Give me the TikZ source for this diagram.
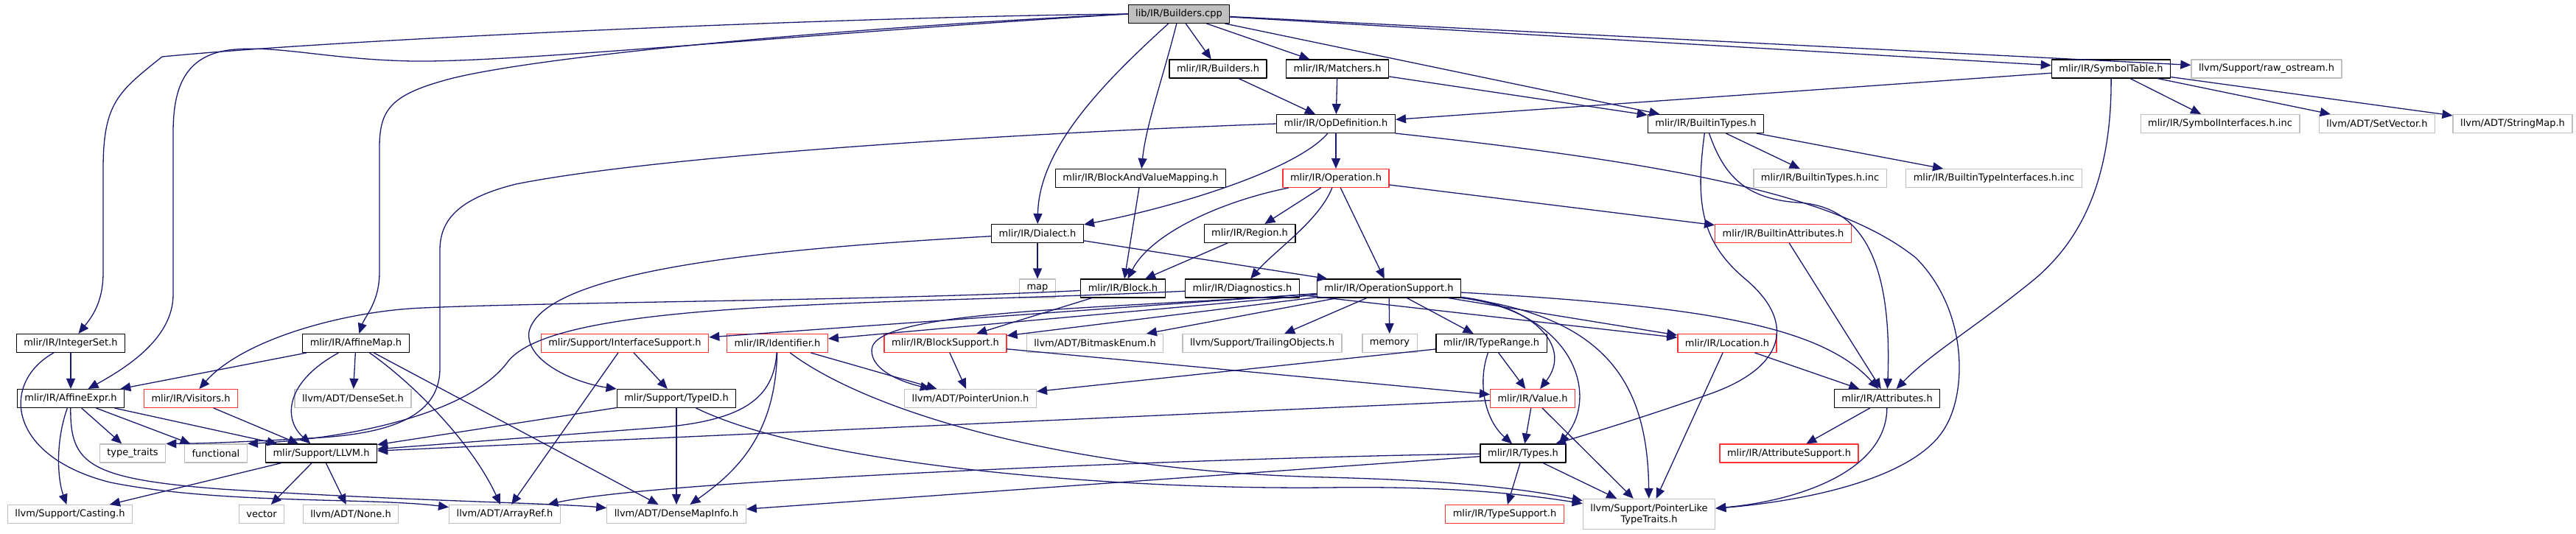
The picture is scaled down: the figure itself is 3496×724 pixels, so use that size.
\documentclass[tikz,border=0pt]{standalone}
\usepackage{fontspec}
\setmainfont{DejaVu Sans}
\usetikzlibrary{arrows.meta}

\definecolor{edgeblue}{RGB}{25,25,112}
\definecolor{extgray}{RGB}{191,191,191}
\definecolor{truncred}{RGB}{255,51,51}
\definecolor{rootfill}{RGB}{191,191,191}

\begin{document}
\begin{tikzpicture}[x=0.5pt, y=-0.5pt, line join=round, line cap=round]
   % Styles
   \tikzset{
    hdr/.style={rectangle, draw=black, fill=white, line width=0.65pt,
      inner xsep=5pt, inner ysep=2pt, minimum height=12.4pt,
      font=\fontsize{6.5pt}{7.5pt}\selectfont},
    sys/.style={hdr, draw=extgray},
    cut/.style={hdr, draw=truncred},
    src/.style={hdr, fill=rootfill},
    inc/.style={draw=edgeblue, line width=0.65pt, -{Triangle[length=7pt, width=6pt]}}
   }
  \useasboundingbox (0,0) rectangle (3496,724);
  % Nodes
  \node[src] (buildersCpp) at (1600,19) {lib/IR/Builders.cpp};
  \node[hdr] (buildersH) at (1653,93.5) {mlir/IR/Builders.h};
  \node[hdr] (matchers) at (1815,93.5) {mlir/IR/Matchers.h};
  \node[hdr] (symbolTable) at (2865,93.5) {mlir/IR/SymbolTable.h};
  \node[sys] (rawOstream) at (3076,93.5) {llvm/Support/raw\_ostream.h};
  \node[hdr] (opDefinition) at (1813,168) {mlir/IR/OpDefinition.h};
  \node[hdr] (builtinTypes) at (2315,168) {mlir/IR/BuiltinTypes.h};
  \node[sys] (symbolIfaceInc) at (3013,168) {mlir/IR/SymbolInterfaces.h.inc};
  \node[sys] (setVector) at (3226,168) {llvm/ADT/SetVector.h};
  \node[sys] (stringMap) at (3410,168) {llvm/ADT/StringMap.h};
  \node[hdr] (blockValueMap) at (1548,242) {mlir/IR/BlockAndValueMapping.h};
  \node[cut] (operation) at (1813,242) {mlir/IR/Operation.h};
  \node[sys] (builtinTypesInc) at (2470,242) {mlir/IR/BuiltinTypes.h.inc};
  \node[sys] (builtinTypeIfaceInc) at (2706,242) {mlir/IR/BuiltinTypeInterfaces.h.inc};
  \node[hdr] (dialect) at (1408,317) {mlir/IR/Dialect.h};
  \node[hdr] (region) at (1696,317) {mlir/IR/Region.h};
  \node[cut] (builtinAttrs) at (2420,317) {mlir/IR/BuiltinAttributes.h};
  \node[sys] (mapH) at (1408,391.5) {map};
  \node[hdr] (block) at (1524,391.5) {mlir/IR/Block.h};
  \node[hdr] (diagnostics) at (1686,391.5) {mlir/IR/Diagnostics.h};
  \node[hdr] (opSupport) at (1885,391.5) {mlir/IR/OperationSupport.h};
  \node[hdr] (integerSet) at (96,466) {mlir/IR/IntegerSet.h};
  \node[hdr] (affineMap) at (483,466) {mlir/IR/AffineMap.h};
  \node[cut] (ifaceSupport) at (848,466) {mlir/Support/InterfaceSupport.h};
  \node[cut] (identifier) at (1055,466) {mlir/IR/Identifier.h};
  \node[cut] (blockSupport) at (1283,466) {mlir/IR/BlockSupport.h};
  \node[sys] (bitmaskEnum) at (1486,466) {llvm/ADT/BitmaskEnum.h};
  \node[sys] (trailingObj) at (1713,466) {llvm/Support/TrailingObjects.h};
  \node[sys] (memoryH) at (1886,466) {memory};
  \node[hdr] (typeRange) at (2024,466) {mlir/IR/TypeRange.h};
  \node[cut] (location) at (2344,466) {mlir/IR/Location.h};
  \node[hdr] (affineExpr) at (96,541) {mlir/IR/AffineExpr.h};
  \node[cut] (visitors) at (259,541) {mlir/IR/Visitors.h};
  \node[sys] (denseSet) at (479,541) {llvm/ADT/DenseSet.h};
  \node[hdr] (typeId) at (918,541) {mlir/Support/TypeID.h};
  \node[sys] (pointerUnion) at (1317,541) {llvm/ADT/PointerUnion.h};
  \node[cut] (value) at (2080,541) {mlir/IR/Value.h};
  \node[hdr] (attributes) at (2561,541) {mlir/IR/Attributes.h};
  \node[sys] (typeTraits) at (180,615.5) {type\_traits};
  \node[sys] (functionalH) at (293,615.5) {functional};
  \node[hdr] (llvmH) at (436,615.5) {mlir/Support/LLVM.h};
  \node[hdr] (types) at (2067,615.5) {mlir/IR/Types.h};
  \node[cut] (attrSupport) at (2428,615.5) {mlir/IR/AttributeSupport.h};
  \node[sys] (casting) at (95,698) {llvm/Support/Casting.h};
  \node[sys] (vectorH) at (355,698) {vector};
  \node[sys] (noneH) at (476,698) {llvm/ADT/None.h};
  \node[sys] (arrayRef) at (685,698) {llvm/ADT/ArrayRef.h};
  \node[sys] (denseMapInfo) at (918,698) {llvm/ADT/DenseMapInfo.h};
  \node[cut] (typeSupport) at (2042,698) {mlir/IR/TypeSupport.h};
  \node[sys, align=center, minimum height=20.5pt] (ptrLike) at (2238,698) {llvm/Support/PointerLike\\TypeTraits.h};
  % Edges (from lib/IR/Builders.cpp)
  \draw[inc] (buildersCpp) -- (buildersH);
  \draw[inc] (buildersCpp) -- (matchers);
  \draw[inc] (buildersCpp) -- (builtinTypes);
  \draw[inc] (buildersCpp) -- (symbolTable);
  \draw[inc] (buildersCpp) -- (rawOstream);
  \draw[inc] (buildersCpp) .. controls (1580,100) and (1555,170) .. (blockValueMap);
  \draw[inc] (buildersCpp) .. controls (1500,110) and (1410,200) .. (dialect);
  \draw[inc] (buildersCpp.west) .. controls (1200,22) and (500,50) .. (220,77)
    .. controls (160,125) and (140,140) .. (140,230) -- (140,370)
    .. controls (140,410) and (125,430) .. (integerSet);
  \draw[inc] (buildersCpp.west) .. controls (1100,45) and (700,85) .. (560,83)
    .. controls (450,81) and (380,62) .. (320,67)
    .. controls (250,72) and (235,120) .. (235,180) -- (235,400)
    .. controls (235,460) and (170,500) .. (affineExpr);
  \draw[inc] (buildersCpp.west) .. controls (1100,40) and (700,80) .. (600,110)
    .. controls (530,130) and (515,150) .. (515,200) -- (515,370)
    .. controls (515,410) and (495,430) .. (affineMap);
  % Edges (upper headers)
  \draw[inc] (buildersH) -- (opDefinition);
  \draw[inc] (matchers) -- (opDefinition);
  \draw[inc] (matchers) -- (builtinTypes);
  \draw[inc] (symbolTable) -- (opDefinition);
  \draw[inc] (symbolTable) -- (symbolIfaceInc);
  \draw[inc] (symbolTable) -- (setVector);
  \draw[inc] (symbolTable) -- (stringMap);
  \draw[inc] (symbolTable) .. controls (2866,250) and (2820,330) .. (2760,380)
    .. controls (2680,445) and (2620,480) .. (attributes);
  \draw[inc] (builtinTypes) -- (builtinTypesInc);
  \draw[inc] (builtinTypes) -- (builtinTypeIfaceInc);
  \draw[inc] (builtinTypes) .. controls (2300,280) and (2310,330) .. (2370,380)
    .. controls (2440,440) and (2420,500) .. (2320,535)
    .. controls (2250,560) and (2170,585) .. (types);
  \draw[inc] (builtinTypes) .. controls (2340,240) and (2370,270) .. (2440,275)
    .. controls (2530,280) and (2568,360) .. (attributes);
  \draw[inc] (opDefinition) -- (operation);
  \draw[inc] (opDefinition) .. controls (1760,230) and (1600,280) .. (dialect);
  \draw[inc] (opDefinition.south east) .. controls (2300,225) and (2500,270) .. (2600,350)
    .. controls (2670,420) and (2670,530) .. (2640,580)
    .. controls (2600,650) and (2450,680) .. (ptrLike);
  \draw[inc] (opDefinition.west) .. controls (1400,180) and (900,210) .. (700,250)
    .. controls (620,270) and (597,300) .. (597,340) -- (597,500)
    .. controls (597,570) and (520,590) .. (420,595)
    .. controls (330,600) and (280,602) .. (typeTraits.north east);
  \draw[inc] (operation) -- (region);
  \draw[inc] (operation) -- (opSupport);
  \draw[inc] (operation) -- (builtinAttrs);
  \draw[inc] (operation) .. controls (1650,275) and (1560,320) .. (block);
  \draw[inc] (operation) .. controls (1790,300) and (1730,340) .. (diagnostics);
  \draw[inc] (region) -- (block);
  \draw[inc] (blockValueMap) -- (block);
  \draw[inc] (builtinAttrs) -- (attributes);
  \draw[inc] (dialect) -- (mapH);
  \draw[inc] (dialect) -- (opSupport);
  \draw[inc] (dialect) .. controls (1100,335) and (740,360) .. (718,450)
    .. controls (712,490) and (780,520) .. (typeId.north west);
  % Edges (middle headers)
  \draw[inc] (block) -- (blockSupport);
  \draw[inc] (block) .. controls (1200,408) and (750,410) .. (574,418)
    .. controls (470,422) and (330,460) .. (visitors);
  \draw[inc] (diagnostics) -- (location);
  \draw[inc] (diagnostics) .. controls (1200,415) and (760,405) .. (690,490)
    .. controls (640,560) and (480,595) .. (functionalH.north east);
  \draw[inc] (opSupport) -- (ifaceSupport);
  \draw[inc] (opSupport) -- (identifier);
  \draw[inc] (opSupport) -- (blockSupport);
  \draw[inc] (opSupport) -- (bitmaskEnum);
  \draw[inc] (opSupport) -- (trailingObj);
  \draw[inc] (opSupport) -- (memoryH);
  \draw[inc] (opSupport) -- (typeRange);
  \draw[inc] (opSupport) -- (location);
  \draw[inc] (opSupport) .. controls (1500,420) and (1185,420) .. (1183,475)
    .. controls (1182,505) and (1230,520) .. (pointerUnion);
  \draw[inc] (opSupport) .. controls (2080,415) and (2135,470) .. (value);
  \draw[inc] (opSupport) .. controls (2140,425) and (2170,540) .. (types.15);
  \draw[inc] (opSupport) .. controls (2180,430) and (2236,520) .. (ptrLike);
  \draw[inc] (opSupport) .. controls (2300,415) and (2470,440) .. (attributes);
  \draw[inc] (ifaceSupport) -- (typeId);
  \draw[inc] (ifaceSupport) -- (arrayRef);
  \draw[inc] (identifier) -- (pointerUnion);
  \draw[inc] (identifier) .. controls (1050,540) and (1010,570) .. (900,580) -- (llvmH);
  \draw[inc] (identifier) .. controls (1052,590) and (1000,640) .. (denseMapInfo);
  \draw[inc] (identifier) .. controls (1180,560) and (1450,640) .. (1800,648)
    .. controls (1950,652) and (2050,660) .. (ptrLike);
  \draw[inc] (blockSupport) -- (pointerUnion);
  \draw[inc] (blockSupport) -- (value);
  \draw[inc] (typeRange) -- (pointerUnion);
  \draw[inc] (typeRange) -- (value);
  \draw[inc] (typeRange) .. controls (2005,520) and (2015,570) .. (types);
  \draw[inc] (location) -- (attributes);
  \draw[inc] (location) -- (ptrLike);
  % Edges (lower headers)
  \draw[inc] (typeId) -- (llvmH);
  \draw[inc] (typeId) -- (denseMapInfo);
  \draw[inc] (typeId) .. controls (1100,630) and (1500,665) .. (1800,662)
    .. controls (1950,660) and (2050,668) .. (ptrLike);
  \draw[inc] (value) -- (types);
  \draw[inc] (value) -- (ptrLike);
  \draw[inc] (value) -- (llvmH);
  \draw[inc] (attributes) -- (attrSupport);
  \draw[inc] (attributes) .. controls (2560,640) and (2440,680) .. (ptrLike);
  \draw[inc] (types) -- (typeSupport);
  \draw[inc] (types) -- (ptrLike);
  \draw[inc] (types) -- (denseMapInfo);
  \draw[inc] (types) .. controls (1700,620) and (900,650) .. (arrayRef);
  \draw[inc] (integerSet) -- (affineExpr);
  \draw[inc] (integerSet) .. controls (0,520) and (10,620) .. (150,655)
    .. controls (300,685) and (500,675) .. (arrayRef);
  \draw[inc] (affineMap) -- (affineExpr);
  \draw[inc] (affineMap) -- (denseSet);
  \draw[inc] (affineMap) -- (denseMapInfo);
  \draw[inc] (affineMap) .. controls (385,520) and (385,570) .. (llvmH);
  \draw[inc] (affineMap) .. controls (560,520) and (640,600) .. (arrayRef);
  \draw[inc] (affineExpr) -- (typeTraits);
  \draw[inc] (affineExpr) -- (functionalH);
  \draw[inc] (affineExpr) -- (llvmH);
  \draw[inc] (affineExpr) .. controls (75,600) and (78,650) .. (casting);
  \draw[inc] (affineExpr) .. controls (95,630) and (120,650) .. (300,664)
    .. controls (550,680) and (750,683) .. (denseMapInfo);
  \draw[inc] (visitors) -- (llvmH);
  \draw[inc] (llvmH) -- (casting);
  \draw[inc] (llvmH) -- (vectorH);
  \draw[inc] (llvmH) -- (noneH);
\end{tikzpicture}
\end{document}
